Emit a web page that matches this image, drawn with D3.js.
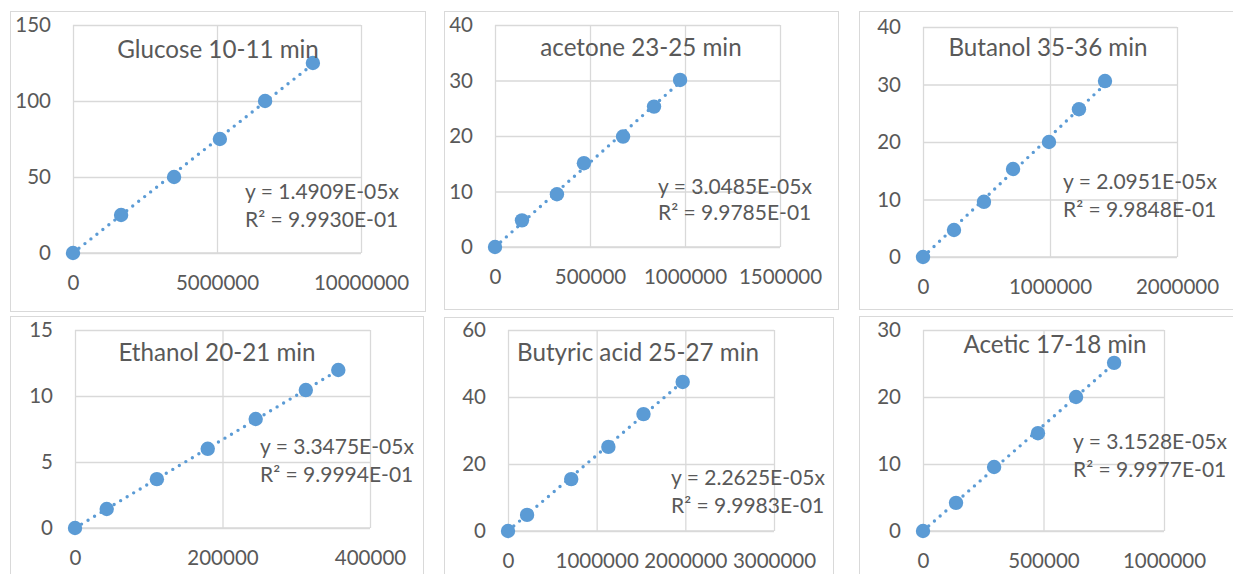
<!DOCTYPE html>
<html>
<head>
<meta charset="utf-8">
<script src="https://cdn.jsdelivr.net/npm/d3@7/dist/d3.min.js"></script>
<style>
  html, body { margin: 0; padding: 0; background: #fff; }
  svg { display: block; }
  text { font-family: Lato, "Open Sans", "Liberation Sans", sans-serif; fill: #595959; }
</style>
</head>
<body>
<svg id="chart" width="1233" height="574"></svg>
<script>
// ---- calibration data (peak area vs concentration) ----
const glucoseX = [0, 1670000, 3510000, 5100000, 6670000, 8330000];
const glucoseY = [0, 25, 50, 75, 100, 125];
const acetoneX = [0, 142000, 326000, 468000, 674000, 837000, 974000];
const acetoneY = [0, 4.8, 9.5, 15.1, 19.9, 25.3, 30.1];
const butanolX = [0, 244000, 480000, 709000, 992000, 1228000, 1433000];
const butanolY = [0, 4.7, 9.6, 15.3, 20, 25.7, 30.6];
const ethanolX = [0, 43000, 111000, 180000, 245000, 313000, 357000];
const ethanolY = [0, 1.44, 3.7, 6.0, 8.26, 10.45, 11.97];
const butyricX = [0, 215000, 713000, 1132000, 1528000, 1970000];
const butyricY = [0, 4.8, 15.5, 25.1, 34.9, 44.5];
const aceticX = [0, 137000, 295000, 477000, 635000, 793000];
const aceticY = [0, 4.2, 9.55, 14.6, 20, 25.1];

const titles = ["Glucose 10-11 min", "acetone 23-25 min", "Butanol 35-36 min",
                "Ethanol 20-21 min", "Butyric acid 25-27 min", "Acetic 17-18 min"];
const slopes = [1.4909e-05, 3.0485e-05, 2.0951e-05, 3.3475e-05, 2.2625e-05, 3.1528e-05];
const slopeLabels = ["1.4909E-05", "3.0485E-05", "2.0951E-05", "3.3475E-05", "2.2625E-05", "3.1528E-05"];
const r2Labels = ["9.9930E-01", "9.9785E-01", "9.9848E-01", "9.9994E-01", "9.9983E-01", "9.9977E-01"];
const xDomains = [[0, 10000000], [0, 1500000], [0, 2000000], [0, 400000], [0, 3000000], [0, 1000000]];
const yDomains = [[0, 150], [0, 40], [0, 40], [0, 15], [0, 60], [0, 30]];
const xTicks = [[0, 5000000, 10000000], [0, 500000, 1000000, 1500000], [0, 1000000, 2000000],
                [0, 200000, 400000], [0, 1000000, 2000000, 3000000], [0, 500000, 1000000]];
const yTicks = [[0, 50, 100, 150], [0, 10, 20, 30, 40], [0, 10, 20, 30, 40],
                [0, 5, 10, 15], [0, 20, 40, 60], [0, 10, 20, 30]];
const seriesX = [glucoseX, acetoneX, butanolX, ethanolX, butyricX, aceticX];
const seriesY = [glucoseY, acetoneY, butanolY, ethanolY, butyricY, aceticY];

// ---- layout of each chart object on the sheet ----
const layout = [
  { box: [10, 11, 425, 311],  plot: [73, 25, 361, 253],   title: [218, 48],   eq: [245, 190, 218] },
  { box: [444, 11, 838, 309], plot: [495, 25, 780, 247],  title: [641, 46],   eq: [658, 185, 211] },
  { box: [859, 11, 1240, 309], plot: [923, 27, 1177, 257], title: [1048, 46], eq: [1063, 180, 208] },
  { box: [10, 316, 423, 580], plot: [75, 330, 370, 528],  title: [217, 351],  eq: [260, 445, 473] },
  { box: [444, 317, 833, 580], plot: [508, 330, 774, 531], title: [638, 351], eq: [671, 476, 504] },
  { box: [859, 316, 1240, 580], plot: [923, 330, 1164, 531], title: [1055, 343], eq: [1073, 440, 468] }
];

const BLUE = "#5B9BD5";
const GRID = "#D9D9D9";
const svg = d3.select("#chart");

layout.forEach((L, i) => {
  const [bx0, by0, bx1, by1] = L.box;
  svg.append("rect")
    .attr("x", bx0 + 0.5).attr("y", by0 + 0.5)
    .attr("width", bx1 - bx0).attr("height", by1 - by0)
    .attr("fill", "#fff").attr("stroke", GRID).attr("stroke-width", 1);
});

layout.forEach((L, i) => {
  const [px0, py0, px1, py1] = L.plot;
  const w = px1 - px0, h = py1 - py0;
  const x = d3.scaleLinear().domain(xDomains[i]).range([0, w]);
  const y = d3.scaleLinear().domain(yDomains[i]).range([h, 0]);
  const g = svg.append("g").attr("transform", `translate(${px0},${py0})`);

  // horizontal gridlines + y labels
  const ya = g.append("g")
    .call(d3.axisLeft(y).tickValues(yTicks[i]).tickFormat(d3.format("d"))
      .tickSizeInner(-w).tickSizeOuter(0).tickPadding(22));
  // vertical gridlines + x labels
  const xa = g.append("g").attr("transform", `translate(0,${h})`)
    .call(d3.axisBottom(x).tickValues(xTicks[i]).tickFormat(d3.format("d"))
      .tickSizeInner(-h).tickSizeOuter(0).tickPadding(22));
  [ya, xa].forEach(a => {
    a.select(".domain").remove();
    a.selectAll(".tick line").attr("stroke", GRID).attr("stroke-width", 1.3);
    a.selectAll(".tick text").style("font-size", "20.5px").attr("fill", "#595959");
  });
  g.append("line").attr("x1", 0).attr("x2", w).attr("y1", h).attr("y2", h)
    .attr("stroke", GRID).attr("stroke-width", 1.3);

  // title
  svg.append("text")
    .attr("x", L.title[0]).attr("y", L.title[1])
    .attr("text-anchor", "middle").attr("dominant-baseline", "central")
    .style("font-size", "24.2px")
    .text(titles[i]);

  // linear trendline through origin
  const xMax = d3.max(seriesX[i]);
  g.append("line")
    .attr("x1", x(0)).attr("y1", y(0))
    .attr("x2", x(xMax)).attr("y2", y(slopes[i] * xMax))
    .attr("stroke", BLUE).attr("stroke-width", 3.4)
    .attr("stroke-linecap", "round").attr("stroke-dasharray", "0 7.6");

  // markers
  g.selectAll("circle.pt").data(seriesX[i].map((v, k) => [v, seriesY[i][k]]))
    .enter().append("circle").attr("class", "pt")
    .attr("cx", d => x(d[0])).attr("cy", d => y(d[1]))
    .attr("r", 7.2).attr("fill", BLUE);

  // trendline equation
  const eq = svg.append("g").style("font-size", "21px");
  eq.append("text").attr("x", L.eq[0]).attr("y", L.eq[1])
    .attr("dominant-baseline", "central")
    .text(`y = ${slopeLabels[i]}x`);
  eq.append("text").attr("x", L.eq[0]).attr("y", L.eq[2])
    .attr("dominant-baseline", "central")
    .text(`R² = ${r2Labels[i]}`);
});
</script>
</body>
</html>
